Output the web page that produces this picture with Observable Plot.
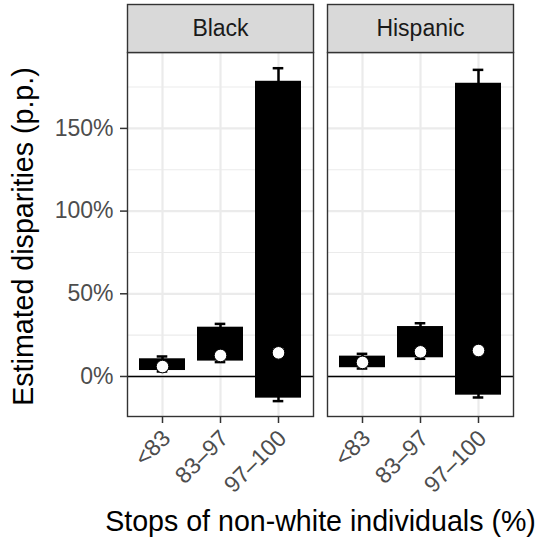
<!DOCTYPE html>
<html>
<head>
<meta charset="utf-8">
<script src="https://cdn.jsdelivr.net/npm/d3@7"></script>
<script src="https://cdn.jsdelivr.net/npm/@observablehq/plot@0.6"></script>
<style>
  body { margin: 0; background: white; }
</style>
</head>
<body>
<div id="chart"></div>
<script>
// ---- data ----
const groups = ["Black", "Hispanic"];
const categories = ["<83", "83–97", "97–100"];

const blackBarLow   = [3.6, 9.3, -13.1];
const blackBarHigh  = [10.7, 29.8, 178.5];
const blackCiLow    = [3.0, 8.7, -14.9];
const blackCiHigh   = [12.1, 31.8, 186.4];
const blackPoint    = [6.0, 12.7, 14.3];

const hispBarLow    = [5.3, 11.3, -11.3];
const hispBarHigh   = [12.3, 30.2, 177.3];
const hispCiLow     = [4.8, 10.7, -12.7];
const hispCiHigh    = [13.7, 32.2, 185.4];
const hispPoint     = [8.5, 14.9, 15.7];

const majorTicks = [0, 50, 100, 150];
const minorTicks = [25, 75, 125, 175];
const yDomain = [-24.2, 195.9];

const xTitle = "Stops of non-white individuals (%)";
const yTitle = "Estimated disparities (p.p.)";

// ---- table ----
const series = {
  Black: {lo: blackBarLow, hi: blackBarHigh, ciLo: blackCiLow, ciHi: blackCiHigh, pt: blackPoint},
  Hispanic: {lo: hispBarLow, hi: hispBarHigh, ciLo: hispCiLow, ciHi: hispCiHigh, pt: hispPoint}
};
const rows = [];
for (const g of groups) {
  categories.forEach((c, i) => {
    const s = series[g];
    rows.push({group: g, cat: c, lo: s.lo[i], hi: s.hi[i], ciLo: s.ciLo[i], ciHi: s.ciHi[i], pt: s.pt[i]});
  });
}

// ---- layout ----
const W = 539, H = 544;
const mTop = 52, mBottom = 128, mLeft = 127, mRight = 26;
const panelH = H - mTop - mBottom;
const stripH = 48;
const font = "Liberation Sans, Arial, Helvetica, sans-serif";

const chart = Plot.plot({
  width: W,
  height: H,
  marginTop: mTop,
  marginBottom: mBottom,
  marginLeft: mLeft,
  marginRight: mRight,
  style: {fontFamily: font, background: "white", overflow: "visible"},
  fx: {domain: groups, paddingInner: 0.07, paddingOuter: 0, axis: null, label: null},
  x: {domain: categories, type: "band", padding: 0.2, axis: null, label: null},
  y: {domain: yDomain, axis: null, label: null},
  marks: [
    // grid
    Plot.gridY(minorTicks, {stroke: "#ebebeb", strokeOpacity: 1, strokeWidth: 1.1}),
    Plot.gridY(majorTicks, {stroke: "#ebebeb", strokeOpacity: 1, strokeWidth: 2.2}),
    Plot.gridX({stroke: "#ebebeb", strokeOpacity: 1, strokeWidth: 2.2}),
    // error bars
    Plot.ruleX(rows, {fx: "group", x: "cat", y1: "ciLo", y2: "ciHi", stroke: "black", strokeWidth: 2.5}),
    Plot.tickY(rows, {fx: "group", x: "cat", y: "ciHi", stroke: "black", strokeWidth: 2.5, inset: 17.7}),
    Plot.tickY(rows, {fx: "group", x: "cat", y: "ciLo", stroke: "black", strokeWidth: 2.5, inset: 17.7}),
    // bars
    Plot.barY(rows, {fx: "group", x: "cat", y1: "lo", y2: "hi", fill: "black"}),
    // zero line
    Plot.ruleY([0], {stroke: "black", strokeWidth: 1.4}),
    // points
    Plot.dot(rows, {fx: "group", x: "cat", y: "pt", r: 6.3, fill: "white", stroke: "black", strokeWidth: 1}),
    // panel border
    Plot.frame({stroke: "#333333", strokeWidth: 1.4}),
    // strip
    Plot.frame({fill: "#d9d9d9", stroke: "#333333", strokeWidth: 1.4, insetTop: -stripH, insetBottom: panelH}),
    Plot.text(groups, {fx: d => d, text: d => d, frameAnchor: "top", lineAnchor: "middle", dy: -stripH / 2, fontSize: 23, fill: "#1a1a1a"}),
    // axes
    Plot.axisY({ticks: majorTicks, tickFormat: d => `${d}%`, tickSize: 7, tickPadding: 7, fontSize: 23,
      stroke: "#333333", strokeWidth: 1.5, fill: "#4d4d4d", label: null}),
    Plot.axisX({tickSize: 7, tickFormat: () => "", stroke: "#333333", strokeWidth: 1.5, label: null}),
    Plot.axisX({tickSize: 0, tickPadding: 18, tickRotate: -45, fontSize: 23, dx: 4,
      fill: "#4d4d4d", label: null}),
    // titles
    Plot.text([xTitle], {text: d => d, facet: "super", frameAnchor: "bottom", lineAnchor: "middle", textAnchor: "middle", dy: 105, fontSize: 28.6, fill: "black"}),
    Plot.text([yTitle], {text: d => d, facet: "super", frameAnchor: "left", lineAnchor: "middle", textAnchor: "middle", rotate: -90, dx: -104, dy: 2, fontSize: 28.6, fill: "black"})
  ]
});
document.getElementById("chart").appendChild(chart);
</script>
</body>
</html>
